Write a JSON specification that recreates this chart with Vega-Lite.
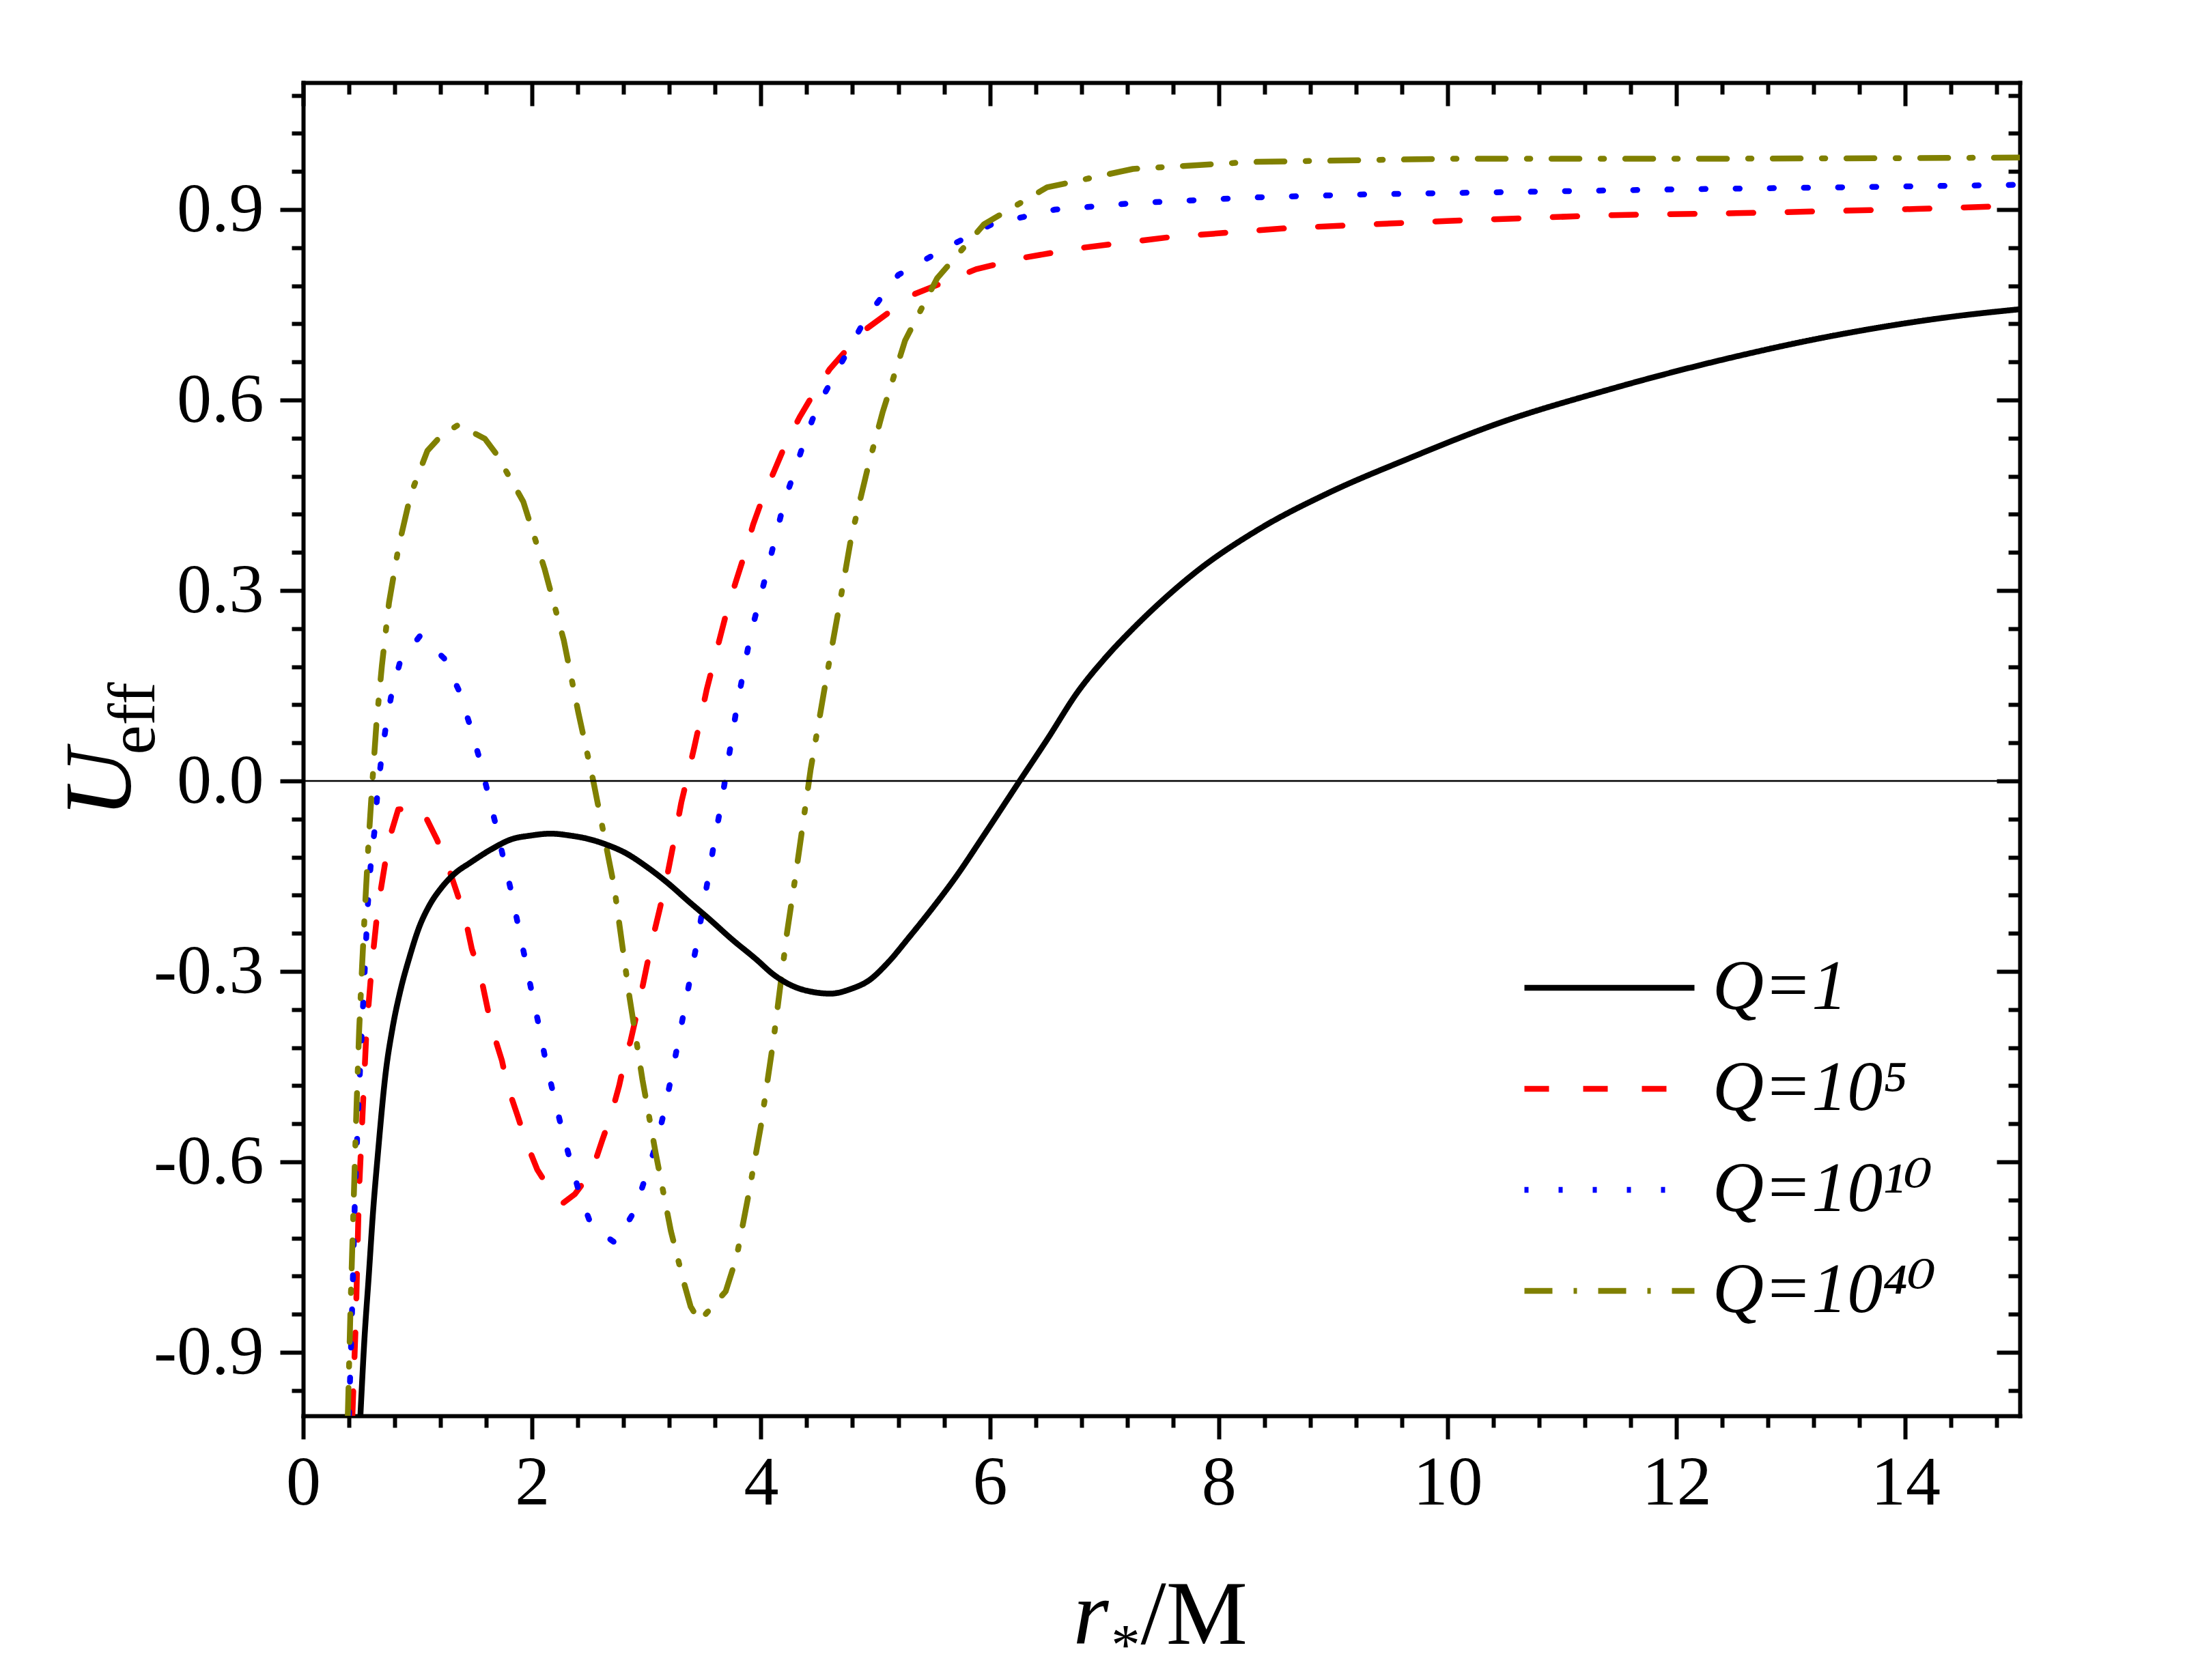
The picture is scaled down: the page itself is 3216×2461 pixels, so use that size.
{
  "$schema": "https://vega.github.io/schema/vega-lite/v6.json",
  "width": 2514,
  "height": 1953,
  "autosize": {"type": "none"},
  "padding": {"left": 444, "top": 121, "right": 258, "bottom": 387},
  "background": "white",
  "data": {
    "values": [
      {"s": "Q=1", "r": 0.50, "U": -1.0}, {"s": "Q=1", "r": 0.535, "U": -0.88}, {"s": "Q=1", "r": 0.573, "U": -0.78},
      {"s": "Q=1", "r": 0.61, "U": -0.68}, {"s": "Q=1", "r": 0.653, "U": -0.587}, {"s": "Q=1", "r": 0.722, "U": -0.458},
      {"s": "Q=1", "r": 0.78, "U": -0.39}, {"s": "Q=1", "r": 0.851, "U": -0.329}, {"s": "Q=1", "r": 0.93, "U": -0.277},
      {"s": "Q=1", "r": 1.01, "U": -0.232}, {"s": "Q=1", "r": 1.1, "U": -0.197}, {"s": "Q=1", "r": 1.209, "U": -0.168},
      {"s": "Q=1", "r": 1.33, "U": -0.145}, {"s": "Q=1", "r": 1.458, "U": -0.129}, {"s": "Q=1", "r": 1.65, "U": -0.107},
      {"s": "Q=1", "r": 1.818, "U": -0.092}, {"s": "Q=1", "r": 1.99, "U": -0.086}, {"s": "Q=1", "r": 2.162, "U": -0.083},
      {"s": "Q=1", "r": 2.33, "U": -0.086}, {"s": "Q=1", "r": 2.506, "U": -0.092}, {"s": "Q=1", "r": 2.66, "U": -0.101},
      {"s": "Q=1", "r": 2.812, "U": -0.113}, {"s": "Q=1", "r": 3.0, "U": -0.135}, {"s": "Q=1", "r": 3.194, "U": -0.162},
      {"s": "Q=1", "r": 3.37, "U": -0.19}, {"s": "Q=1", "r": 3.539, "U": -0.216}, {"s": "Q=1", "r": 3.75, "U": -0.25},
      {"s": "Q=1", "r": 3.959, "U": -0.281}, {"s": "Q=1", "r": 4.11, "U": -0.305}, {"s": "Q=1", "r": 4.265, "U": -0.322},
      {"s": "Q=1", "r": 4.44, "U": -0.332}, {"s": "Q=1", "r": 4.609, "U": -0.335}, {"s": "Q=1", "r": 4.78, "U": -0.328},
      {"s": "Q=1", "r": 4.953, "U": -0.313}, {"s": "Q=1", "r": 5.1, "U": -0.288}, {"s": "Q=1", "r": 5.3, "U": -0.245},
      {"s": "Q=1", "r": 5.5, "U": -0.2}, {"s": "Q=1", "r": 5.7, "U": -0.152}, {"s": "Q=1", "r": 5.95, "U": -0.085},
      {"s": "Q=1", "r": 6.257, "U": -0.001}, {"s": "Q=1", "r": 6.5, "U": 0.065}, {"s": "Q=1", "r": 6.771, "U": 0.141},
      {"s": "Q=1", "r": 7.0, "U": 0.192}, {"s": "Q=1", "r": 7.251, "U": 0.24}, {"s": "Q=1", "r": 7.5, "U": 0.283},
      {"s": "Q=1", "r": 7.799, "U": 0.329}, {"s": "Q=1", "r": 8.347, "U": 0.396}, {"s": "Q=1", "r": 8.963, "U": 0.454},
      {"s": "Q=1", "r": 9.648, "U": 0.507}, {"s": "Q=1", "r": 10.47, "U": 0.565}, {"s": "Q=1", "r": 11.36, "U": 0.614},
      {"s": "Q=1", "r": 12.39, "U": 0.663}, {"s": "Q=1", "r": 13.42, "U": 0.703}, {"s": "Q=1", "r": 14.44, "U": 0.732},
      {"s": "Q=1", "r": 15.0, "U": 0.743},

      {"s": "Q=1e5", "r": 0.43, "U": -1.0}, {"s": "Q=1e5", "r": 0.46, "U": -0.85}, {"s": "Q=1e5", "r": 0.487, "U": -0.651},
      {"s": "Q=1e5", "r": 0.52, "U": -0.52}, {"s": "Q=1e5", "r": 0.553, "U": -0.393}, {"s": "Q=1e5", "r": 0.60, "U": -0.29},
      {"s": "Q=1e5", "r": 0.652, "U": -0.2}, {"s": "Q=1e5", "r": 0.72, "U": -0.125}, {"s": "Q=1e5", "r": 0.76, "U": -0.087},
      {"s": "Q=1e5", "r": 0.83, "U": -0.045}, {"s": "Q=1e5", "r": 1.03, "U": -0.042}, {"s": "Q=1e5", "r": 1.168, "U": -0.092},
      {"s": "Q=1e5", "r": 1.263, "U": -0.133}, {"s": "Q=1e5", "r": 1.34, "U": -0.174}, {"s": "Q=1e5", "r": 1.416, "U": -0.216},
      {"s": "Q=1e5", "r": 1.474, "U": -0.265}, {"s": "Q=1e5", "r": 1.55, "U": -0.306}, {"s": "Q=1e5", "r": 1.646, "U": -0.388},
      {"s": "Q=1e5", "r": 1.736, "U": -0.44}, {"s": "Q=1e5", "r": 1.786, "U": -0.481}, {"s": "Q=1e5", "r": 1.875, "U": -0.528},
      {"s": "Q=1e5", "r": 1.945, "U": -0.567}, {"s": "Q=1e5", "r": 2.045, "U": -0.612}, {"s": "Q=1e5", "r": 2.154, "U": -0.643},
      {"s": "Q=1e5", "r": 2.27, "U": -0.665}, {"s": "Q=1e5", "r": 2.373, "U": -0.651}, {"s": "Q=1e5", "r": 2.522, "U": -0.615},
      {"s": "Q=1e5", "r": 2.611, "U": -0.567}, {"s": "Q=1e5", "r": 2.691, "U": -0.526}, {"s": "Q=1e5", "r": 2.761, "U": -0.48},
      {"s": "Q=1e5", "r": 2.81, "U": -0.44}, {"s": "Q=1e5", "r": 2.86, "U": -0.41}, {"s": "Q=1e5", "r": 2.908, "U": -0.372},
      {"s": "Q=1e5", "r": 2.97, "U": -0.32}, {"s": "Q=1e5", "r": 3.042, "U": -0.257}, {"s": "Q=1e5", "r": 3.118, "U": -0.2},
      {"s": "Q=1e5", "r": 3.18, "U": -0.15}, {"s": "Q=1e5", "r": 3.252, "U": -0.084}, {"s": "Q=1e5", "r": 3.304, "U": -0.034},
      {"s": "Q=1e5", "r": 3.358, "U": 0.007}, {"s": "Q=1e5", "r": 3.417, "U": 0.053}, {"s": "Q=1e5", "r": 3.471, "U": 0.097},
      {"s": "Q=1e5", "r": 3.526, "U": 0.144}, {"s": "Q=1e5", "r": 3.584, "U": 0.185}, {"s": "Q=1e5", "r": 3.651, "U": 0.232},
      {"s": "Q=1e5", "r": 3.71, "U": 0.273}, {"s": "Q=1e5", "r": 3.786, "U": 0.317}, {"s": "Q=1e5", "r": 3.861, "U": 0.359},
      {"s": "Q=1e5", "r": 3.932, "U": 0.404}, {"s": "Q=1e5", "r": 4.016, "U": 0.446}, {"s": "Q=1e5", "r": 4.12, "U": 0.49},
      {"s": "Q=1e5", "r": 4.212, "U": 0.529}, {"s": "Q=1e5", "r": 4.338, "U": 0.573}, {"s": "Q=1e5", "r": 4.463, "U": 0.611},
      {"s": "Q=1e5", "r": 4.602, "U": 0.649}, {"s": "Q=1e5", "r": 4.748, "U": 0.679}, {"s": "Q=1e5", "r": 4.92, "U": 0.712},
      {"s": "Q=1e5", "r": 5.33, "U": 0.766}, {"s": "Q=1e5", "r": 5.88, "U": 0.806}, {"s": "Q=1e5", "r": 6.29, "U": 0.824},
      {"s": "Q=1e5", "r": 6.77, "U": 0.839}, {"s": "Q=1e5", "r": 7.59, "U": 0.857}, {"s": "Q=1e5", "r": 8.62, "U": 0.871},
      {"s": "Q=1e5", "r": 9.99, "U": 0.882}, {"s": "Q=1e5", "r": 11.36, "U": 0.891}, {"s": "Q=1e5", "r": 12.73, "U": 0.895},
      {"s": "Q=1e5", "r": 14.1, "U": 0.901}, {"s": "Q=1e5", "r": 15.0, "U": 0.906},

      {"s": "Q=1e10", "r": 0.40, "U": -1.0}, {"s": "Q=1e10", "r": 0.425, "U": -0.85}, {"s": "Q=1e10", "r": 0.453, "U": -0.651},
      {"s": "Q=1e10", "r": 0.485, "U": -0.5}, {"s": "Q=1e10", "r": 0.513, "U": -0.393}, {"s": "Q=1e10", "r": 0.563, "U": -0.2},
      {"s": "Q=1e10", "r": 0.595, "U": -0.12}, {"s": "Q=1e10", "r": 0.622, "U": -0.081}, {"s": "Q=1e10", "r": 0.646, "U": -0.026},
      {"s": "Q=1e10", "r": 0.679, "U": 0.029}, {"s": "Q=1e10", "r": 0.721, "U": 0.084}, {"s": "Q=1e10", "r": 0.771, "U": 0.136},
      {"s": "Q=1e10", "r": 0.847, "U": 0.188}, {"s": "Q=1e10", "r": 1.023, "U": 0.229}, {"s": "Q=1e10", "r": 1.232, "U": 0.193},
      {"s": "Q=1e10", "r": 1.357, "U": 0.144}, {"s": "Q=1e10", "r": 1.45, "U": 0.092}, {"s": "Q=1e10", "r": 1.533, "U": 0.04},
      {"s": "Q=1e10", "r": 1.609, "U": -0.015}, {"s": "Q=1e10", "r": 1.68, "U": -0.067}, {"s": "Q=1e10", "r": 1.75, "U": -0.122},
      {"s": "Q=1e10", "r": 1.818, "U": -0.174}, {"s": "Q=1e10", "r": 1.879, "U": -0.228}, {"s": "Q=1e10", "r": 1.94, "U": -0.281},
      {"s": "Q=1e10", "r": 2.001, "U": -0.336}, {"s": "Q=1e10", "r": 2.063, "U": -0.388}, {"s": "Q=1e10", "r": 2.12, "U": -0.442},
      {"s": "Q=1e10", "r": 2.189, "U": -0.495}, {"s": "Q=1e10", "r": 2.261, "U": -0.549}, {"s": "Q=1e10", "r": 2.338, "U": -0.601},
      {"s": "Q=1e10", "r": 2.418, "U": -0.652}, {"s": "Q=1e10", "r": 2.52, "U": -0.701}, {"s": "Q=1e10", "r": 2.73, "U": -0.728},
      {"s": "Q=1e10", "r": 2.896, "U": -0.677}, {"s": "Q=1e10", "r": 2.99, "U": -0.625}, {"s": "Q=1e10", "r": 3.087, "U": -0.571},
      {"s": "Q=1e10", "r": 3.156, "U": -0.52}, {"s": "Q=1e10", "r": 3.217, "U": -0.466}, {"s": "Q=1e10", "r": 3.275, "U": -0.413},
      {"s": "Q=1e10", "r": 3.332, "U": -0.359}, {"s": "Q=1e10", "r": 3.386, "U": -0.306}, {"s": "Q=1e10", "r": 3.443, "U": -0.253},
      {"s": "Q=1e10", "r": 3.493, "U": -0.199}, {"s": "Q=1e10", "r": 3.546, "U": -0.146}, {"s": "Q=1e10", "r": 3.596, "U": -0.092},
      {"s": "Q=1e10", "r": 3.65, "U": -0.039}, {"s": "Q=1e10", "r": 3.70, "U": 0.016}, {"s": "Q=1e10", "r": 3.794, "U": 0.122},
      {"s": "Q=1e10", "r": 3.911, "U": 0.232}, {"s": "Q=1e10", "r": 4.057, "U": 0.333}, {"s": "Q=1e10", "r": 4.204, "U": 0.44},
      {"s": "Q=1e10", "r": 4.296, "U": 0.489}, {"s": "Q=1e10", "r": 4.392, "U": 0.542}, {"s": "Q=1e10", "r": 4.497, "U": 0.591},
      {"s": "Q=1e10", "r": 4.65, "U": 0.641}, {"s": "Q=1e10", "r": 4.92, "U": 0.73}, {"s": "Q=1e10", "r": 5.2, "U": 0.797},
      {"s": "Q=1e10", "r": 5.61, "U": 0.839}, {"s": "Q=1e10", "r": 6.02, "U": 0.877}, {"s": "Q=1e10", "r": 6.57, "U": 0.9},
      {"s": "Q=1e10", "r": 7.25, "U": 0.91}, {"s": "Q=1e10", "r": 8.28, "U": 0.919}, {"s": "Q=1e10", "r": 9.31, "U": 0.924},
      {"s": "Q=1e10", "r": 10.68, "U": 0.928}, {"s": "Q=1e10", "r": 12.05, "U": 0.932}, {"s": "Q=1e10", "r": 13.42, "U": 0.935},
      {"s": "Q=1e10", "r": 15.0, "U": 0.939},

      {"s": "Q=1e40", "r": 0.39, "U": -1.0}, {"s": "Q=1e40", "r": 0.415, "U": -0.82}, {"s": "Q=1e40", "r": 0.443, "U": -0.651},
      {"s": "Q=1e40", "r": 0.465, "U": -0.52}, {"s": "Q=1e40", "r": 0.489, "U": -0.393}, {"s": "Q=1e40", "r": 0.515, "U": -0.29},
      {"s": "Q=1e40", "r": 0.54, "U": -0.2}, {"s": "Q=1e40", "r": 0.57, "U": -0.1}, {"s": "Q=1e40", "r": 0.603, "U": -0.006},
      {"s": "Q=1e40", "r": 0.64, "U": 0.09}, {"s": "Q=1e40", "r": 0.688, "U": 0.182}, {"s": "Q=1e40", "r": 0.75, "U": 0.281},
      {"s": "Q=1e40", "r": 0.834, "U": 0.369}, {"s": "Q=1e40", "r": 0.939, "U": 0.451}, {"s": "Q=1e40", "r": 1.085, "U": 0.52},
      {"s": "Q=1e40", "r": 1.211, "U": 0.545}, {"s": "Q=1e40", "r": 1.357, "U": 0.561}, {"s": "Q=1e40", "r": 1.588, "U": 0.539},
      {"s": "Q=1e40", "r": 1.692, "U": 0.514}, {"s": "Q=1e40", "r": 1.923, "U": 0.44}, {"s": "Q=1e40", "r": 2.111, "U": 0.333},
      {"s": "Q=1e40", "r": 2.278, "U": 0.221}, {"s": "Q=1e40", "r": 2.404, "U": 0.108}, {"s": "Q=1e40", "r": 2.535, "U": 0.0},
      {"s": "Q=1e40", "r": 2.717, "U": -0.166}, {"s": "Q=1e40", "r": 2.85, "U": -0.339}, {"s": "Q=1e40", "r": 2.965, "U": -0.471},
      {"s": "Q=1e40", "r": 3.08, "U": -0.586}, {"s": "Q=1e40", "r": 3.213, "U": -0.709}, {"s": "Q=1e40", "r": 3.328, "U": -0.791},
      {"s": "Q=1e40", "r": 3.386, "U": -0.828}, {"s": "Q=1e40", "r": 3.462, "U": -0.851}, {"s": "Q=1e40", "r": 3.692, "U": -0.804},
      {"s": "Q=1e40", "r": 3.787, "U": -0.75}, {"s": "Q=1e40", "r": 3.883, "U": -0.66}, {"s": "Q=1e40", "r": 3.998, "U": -0.545},
      {"s": "Q=1e40", "r": 4.112, "U": -0.405}, {"s": "Q=1e40", "r": 4.227, "U": -0.24}, {"s": "Q=1e40", "r": 4.31, "U": -0.14},
      {"s": "Q=1e40", "r": 4.434, "U": 0.018}, {"s": "Q=1e40", "r": 4.58, "U": 0.171}, {"s": "Q=1e40", "r": 4.685, "U": 0.276},
      {"s": "Q=1e40", "r": 4.79, "U": 0.385}, {"s": "Q=1e40", "r": 4.936, "U": 0.495}, {"s": "Q=1e40", "r": 5.062, "U": 0.58},
      {"s": "Q=1e40", "r": 5.26, "U": 0.694}, {"s": "Q=1e40", "r": 5.54, "U": 0.792}, {"s": "Q=1e40", "r": 5.95, "U": 0.877},
      {"s": "Q=1e40", "r": 6.5, "U": 0.935}, {"s": "Q=1e40", "r": 7.25, "U": 0.964}, {"s": "Q=1e40", "r": 8.28, "U": 0.975},
      {"s": "Q=1e40", "r": 9.99, "U": 0.98}, {"s": "Q=1e40", "r": 12.05, "U": 0.98}, {"s": "Q=1e40", "r": 14.0, "U": 0.981},
      {"s": "Q=1e40", "r": 15.0, "U": 0.982}
    ]
  },
  "config": {
    "view": {"stroke": null},
    "axis": {
      "grid": false,
      "labelFont": "Liberation Serif",
      "labelFontSize": 102,
      "labelColor": "#000000",
      "titleFont": "Liberation Serif",
      "titleColor": "#000000",
      "titleFontWeight": "normal",
      "tickColor": "#000000",
      "tickWidth": 6,
      "domainColor": "#000000",
      "domainWidth": 6,
      "domainCap": "square",
      "labelFlush": false,
      "labelOverlap": false
    },
    "legend": {"labelFont": "Liberation Serif, DejaVu Serif", "labelFontSize": 104, "labelFontStyle": "italic", "labelColor": "#000000"}
  },
  "resolve": {"axis": {"x": "independent", "y": "independent"}},
  "layer": [
    {
      "transform": [{"filter": "datum.s != 'Q=1'"}],
      "mark": {"type": "line", "strokeWidth": 8.5, "strokeCap": "round", "strokeJoin": "round", "clip": true},
      "encoding": {
        "x": {
          "field": "r", "type": "quantitative",
          "scale": {"domain": [0, 15], "nice": false, "zero": false},
          "axis": {
            "orient": "bottom", "values": [0, 2, 4, 6, 8, 10, 12, 14], "format": "d",
            "tickSize": 34, "labelPadding": 14,
            "title": "r", "titleFontStyle": "italic", "titleFontSize": 134,
            "titleX": 1127, "titleY": 333, "titleAlign": "left", "titleBaseline": "alphabetic"
          }
        },
        "y": {
          "field": "U", "type": "quantitative",
          "scale": {"domain": [-1, 1.1], "nice": false, "zero": false},
          "axis": {
            "orient": "left", "values": [-0.9, -0.6, -0.3, 0, 0.3, 0.6, 0.9],
            "labelExpr": "(datum.value < 0 ? '-' : '') + format(abs(datum.value), '.1f')",
            "tickSize": 34, "labelPadding": 24,
            "title": "U", "titleFontStyle": "italic", "titleFontSize": 140, "titleAngle": 270,
            "titleX": -254, "titleY": 1026, "titleAlign": "center", "titleBaseline": "alphabetic"
          }
        },
        "color": {
          "field": "s", "type": "nominal",
          "scale": {"domain": ["Q=1", "Q=1e5", "Q=1e10", "Q=1e40"], "range": ["#000000", "#FF0000", "#0000FF", "#808000"]},
          "legend": {
            "title": null, "orient": "none", "legendX": 1784, "legendY": 1274,
            "symbolType": "stroke", "symbolSize": 62000, "symbolStrokeWidth": 8.5,
            "labelOffset": 22, "labelLimit": 0, "clipHeight": 104, "rowPadding": 44, "padding": 0,
            "labelExpr": "{'Q=1': 'Q=1', 'Q=1e5': 'Q=10⁵', 'Q=1e10': 'Q=10¹⁰', 'Q=1e40': 'Q=10⁴⁰'}[datum.label]"
          }
        },
        "strokeDash": {
          "field": "s", "type": "nominal",
          "scale": {"domain": ["Q=1", "Q=1e5", "Q=1e10", "Q=1e40"], "range": [[1, 0], [36, 50], [6, 44], [41, 31, 5, 31]]},
          "legend": {
            "title": null, "orient": "none", "legendX": 1784, "legendY": 1274,
            "symbolType": "stroke", "symbolSize": 62000, "symbolStrokeWidth": 8.5,
            "labelOffset": 22, "labelLimit": 0, "clipHeight": 104, "rowPadding": 44, "padding": 0,
            "labelExpr": "{'Q=1': 'Q=1', 'Q=1e5': 'Q=10⁵', 'Q=1e10': 'Q=10¹⁰', 'Q=1e40': 'Q=10⁴⁰'}[datum.label]"
          }
        }
      }
    },
    {
      "transform": [{"filter": "datum.s == 'Q=1'"}],
      "mark": {"type": "line", "strokeWidth": 8.5, "strokeCap": "round", "strokeJoin": "round", "interpolate": "monotone", "clip": true},
      "encoding": {
        "x": {"field": "r", "type": "quantitative", "scale": {"domain": [0, 15], "nice": false, "zero": false}, "axis": null},
        "y": {"field": "U", "type": "quantitative", "scale": {"domain": [-1, 1.1], "nice": false, "zero": false}, "axis": null},
        "color": {
          "field": "s", "type": "nominal",
          "scale": {"domain": ["Q=1", "Q=1e5", "Q=1e10", "Q=1e40"], "range": ["#000000", "#FF0000", "#0000FF", "#808000"]},
          "legend": {
            "title": null, "orient": "none", "legendX": 1784, "legendY": 1274,
            "symbolType": "stroke", "symbolSize": 62000, "symbolStrokeWidth": 8.5,
            "labelOffset": 22, "labelLimit": 0, "clipHeight": 104, "rowPadding": 44, "padding": 0,
            "labelExpr": "{'Q=1': 'Q=1', 'Q=1e5': 'Q=10⁵', 'Q=1e10': 'Q=10¹⁰', 'Q=1e40': 'Q=10⁴⁰'}[datum.label]"
          }
        },
        "strokeDash": {
          "field": "s", "type": "nominal",
          "scale": {"domain": ["Q=1", "Q=1e5", "Q=1e10", "Q=1e40"], "range": [[1, 0], [36, 50], [6, 44], [41, 31, 5, 31]]},
          "legend": {
            "title": null, "orient": "none", "legendX": 1784, "legendY": 1274,
            "symbolType": "stroke", "symbolSize": 62000, "symbolStrokeWidth": 8.5,
            "labelOffset": 22, "labelLimit": 0, "clipHeight": 104, "rowPadding": 44, "padding": 0,
            "labelExpr": "{'Q=1': 'Q=1', 'Q=1e5': 'Q=10⁵', 'Q=1e10': 'Q=10¹⁰', 'Q=1e40': 'Q=10⁴⁰'}[datum.label]"
          }
        }
      }
    },
    {
      "data": {"values": [{"x0": 0, "x1": 15, "y0": 0}]},
      "mark": {"type": "rule", "color": "#000000", "strokeWidth": 2.5},
      "encoding": {
        "x": {
          "field": "x0", "type": "quantitative",
          "scale": {"domain": [0, 15], "nice": false, "zero": false},
          "axis": {
            "orient": "bottom", "values": [0.4, 0.8, 1.2, 1.6, 2.4, 2.8, 3.2, 3.6, 4.4, 4.8, 5.2, 5.6, 6.4, 6.8, 7.2, 7.6, 8.4, 8.8, 9.2, 9.6, 10.4, 10.8, 11.2, 11.6, 12.4, 12.8, 13.2, 13.6, 14.4, 14.8],
            "labels": false, "domain": false, "tickSize": 17,
            "title": "*", "titleFontSize": 85, "titleX": 1204, "titleY": 363, "titleAlign": "center", "titleBaseline": "alphabetic"
          }
        },
        "x2": {"field": "x1"},
        "y": {
          "field": "y0", "type": "quantitative",
          "scale": {"domain": [-1, 1.1], "nice": false, "zero": false},
          "axis": {
            "orient": "left", "values": [-0.96, -0.84, -0.78, -0.72, -0.66, -0.54, -0.48, -0.42, -0.36, -0.24, -0.18, -0.12, -0.06, 0.06, 0.12, 0.18, 0.24, 0.36, 0.42, 0.48, 0.54, 0.66, 0.72, 0.78, 0.84, 0.96, 1.02, 1.08],
            "labels": false, "domain": false, "tickSize": 17,
            "title": "eff", "titleFontSize": 97, "titleAngle": 270,
            "titleX": -219, "titleY": 931, "titleAlign": "center", "titleBaseline": "alphabetic"
          }
        }
      }
    },
    {
      "mark": {"type": "point", "opacity": 0},
      "encoding": {
        "x": {
          "field": "r", "type": "quantitative",
          "scale": {"domain": [0, 15], "nice": false, "zero": false},
          "axis": {"orient": "top", "values": [0, 2, 4, 6, 8, 10, 12, 14], "labels": false, "tickSize": -34, "title": null}
        },
        "y": {
          "field": "U", "type": "quantitative",
          "scale": {"domain": [-1, 1.1], "nice": false, "zero": false},
          "axis": {"orient": "right", "values": [-0.9, -0.6, -0.3, 0, 0.3, 0.6, 0.9], "labels": false, "tickSize": -34, "title": null}
        }
      }
    },
    {
      "mark": {"type": "point", "opacity": 0},
      "encoding": {
        "x": {
          "field": "r", "type": "quantitative",
          "scale": {"domain": [0, 15], "nice": false, "zero": false},
          "axis": {
            "orient": "top", "values": [0.4, 0.8, 1.2, 1.6, 2.4, 2.8, 3.2, 3.6, 4.4, 4.8, 5.2, 5.6, 6.4, 6.8, 7.2, 7.6, 8.4, 8.8, 9.2, 9.6, 10.4, 10.8, 11.2, 11.6, 12.4, 12.8, 13.2, 13.6, 14.4, 14.8],
            "labels": false, "domain": false, "tickSize": -17, "title": null
          }
        },
        "y": {
          "field": "U", "type": "quantitative",
          "scale": {"domain": [-1, 1.1], "nice": false, "zero": false},
          "axis": {
            "orient": "right", "values": [-0.96, -0.84, -0.78, -0.72, -0.66, -0.54, -0.48, -0.42, -0.36, -0.24, -0.18, -0.12, -0.06, 0.06, 0.12, 0.18, 0.24, 0.36, 0.42, 0.48, 0.54, 0.66, 0.72, 0.78, 0.84, 0.96, 1.02, 1.08],
            "labels": false, "domain": false, "tickSize": -17, "title": null
          }
        }
      }
    },
    {
      "mark": {"type": "point", "opacity": 0},
      "encoding": {
        "x": {
          "field": "r", "type": "quantitative",
          "scale": {"domain": [0, 15], "nice": false, "zero": false},
          "axis": {
            "orient": "bottom", "values": [], "labels": false, "ticks": false, "domain": false,
            "title": "/M", "titleFontSize": 134, "titleX": 1226, "titleY": 333, "titleAlign": "left", "titleBaseline": "alphabetic"
          }
        },
        "y": {
          "field": "U", "type": "quantitative",
          "scale": {"domain": [-1, 1.1], "nice": false, "zero": false},
          "axis": null
        }
      }
    }
  ]
}
